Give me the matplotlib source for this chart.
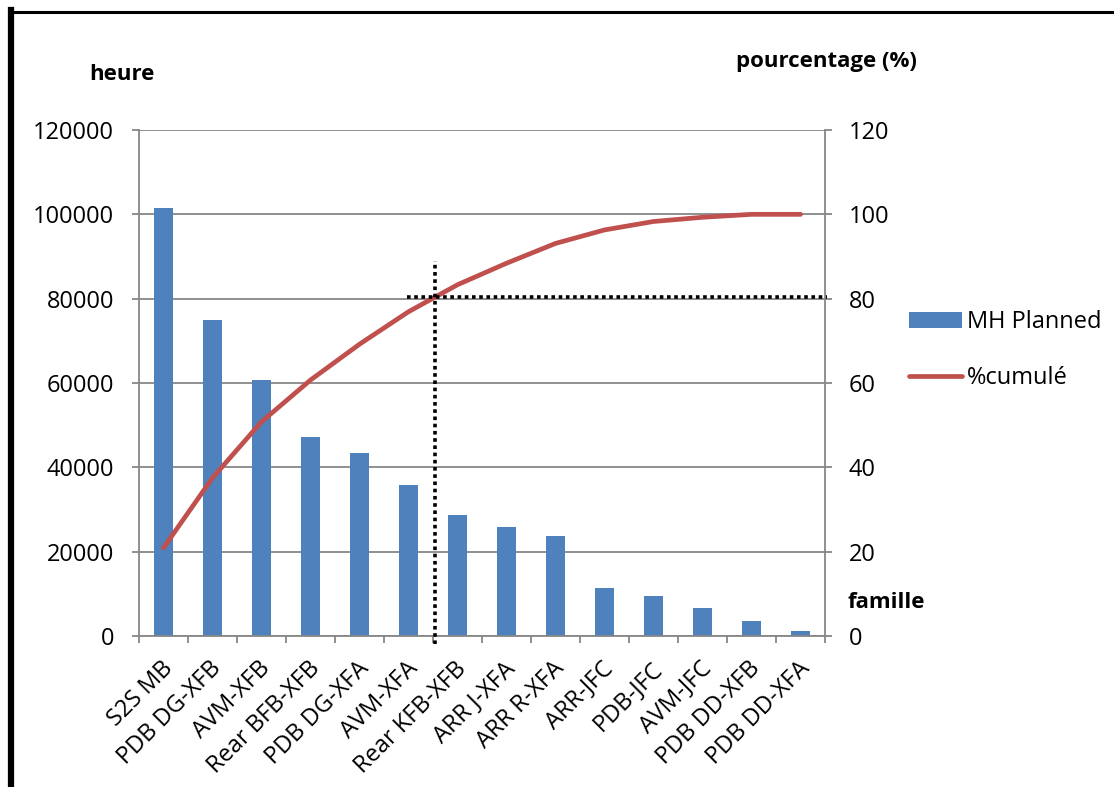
import matplotlib
matplotlib.use("Agg")
import matplotlib.pyplot as plt
from matplotlib.lines import Line2D
from matplotlib.patches import Patch

plt.rcParams['font.family'] = ['Open Sans', 'DejaVu Sans']

categories = ["S2S MB", "PDB DG-XFB", "AVM-XFB", "Rear BFB-XFB", "PDB DG-XFA",
              "AVM-XFA", "Rear KFB-XFB", "ARR J-XFA", "ARR R-XFA", "ARR-JFC",
              "PDB-JFC", "AVM-JFC", "PDB DD-XFB", "PDB DD-XFA"]
mh_planned = [101500, 75000, 60600, 47100, 43300, 35700, 28600, 25900, 23700,
              11300, 9500, 6600, 3600, 1300]
pct_cumule = [20.9, 37.5, 50.8, 60.7, 69.2, 76.9, 83.3, 88.4, 93.1, 96.3,
              98.3, 99.3, 100, 100]
left_ticks = [0, 20000, 40000, 60000, 80000, 100000, 120000]
right_ticks = [0, 20, 40, 60, 80, 100, 120]

bar_color = "#4F81BD"
line_color = "#C0504D"
grid_color = "#878787"
label_size = 17

fig = plt.figure(figsize=(11.14, 7.87), dpi=100)
ax = fig.add_axes([139 / 1114, 1 - 636 / 787, (825 - 139) / 1114, (636 - 130) / 787])
ax2 = ax.twinx()

x = list(range(len(categories)))
ax.bar(x, mh_planned, width=0.4, color=bar_color, zorder=2)
ax.set_xlim(-0.5, len(categories) - 0.5)
ax.set_ylim(0, 120000)
ax.set_yticks(left_ticks)
ax.set_yticklabels([str(v) for v in left_ticks])
ax.yaxis.grid(True, color=grid_color, linewidth=1.3, zorder=0)
ax.set_axisbelow(True)

# category ticks sit on the boundaries between columns
ax.set_xticks([i - 0.5 for i in range(len(categories) + 1)])
ax.set_xticklabels([])
ax.tick_params(axis='x', length=5, width=1.3, color=grid_color, direction='out')
ax.tick_params(axis='y', length=5, width=1.3, color=grid_color,
               labelsize=label_size, pad=13)
for i, name in enumerate(categories):
    ax.annotate(name, xy=(i, 0), xycoords=('data', 'axes fraction'),
                xytext=(4, -21), textcoords='offset points',
                rotation=45, ha='right', va='center', rotation_mode='anchor',
                fontsize=label_size)

for side in ['top', 'right']:
    ax.spines[side].set_visible(False)
for side in ['left', 'bottom']:
    ax.spines[side].set_color(grid_color)
    ax.spines[side].set_linewidth(1.3)

ax2.plot(x, pct_cumule, color=line_color, linewidth=3.4, solid_capstyle='round',
         solid_joinstyle='round', zorder=3)
ax2.set_ylim(0, 120)
ax2.set_yticks(right_ticks)
ax2.set_yticklabels([str(v) for v in right_ticks])
ax2.tick_params(axis='y', length=5, width=1.3, color=grid_color,
                labelsize=label_size, pad=12)
for side in ['top', 'left', 'bottom']:
    ax2.spines[side].set_visible(False)
ax2.spines['right'].set_color(grid_color)
ax2.spines['right'].set_linewidth(1.3)

# 80 % cut-off markers
ax2.plot([5.55, 5.55], [-1.8, 89], color='black', linewidth=2.6,
         linestyle=(0, (1, 1)), clip_on=False, zorder=4)
ax2.plot([4.97, 13.55], [80.5, 80.5], color='black', linewidth=2.6,
         linestyle=(0, (1, 1)), clip_on=False, zorder=4)

fig.text(89 / 1114, 1 - 75 / 787, "heure", fontsize=16, fontweight='bold',
         ha='left', va='center')
fig.text(736 / 1114, 1 - 62 / 787, "pourcentage (%)", fontsize=16,
         fontweight='bold', ha='left', va='center')
fig.text(847 / 1114, 1 - 603 / 787, "famille", fontsize=16, fontweight='bold',
         ha='left', va='center')

handles = [Patch(facecolor=bar_color, edgecolor='none'),
           Line2D([0], [0], color=line_color, linewidth=3.4, solid_capstyle='round')]
fig.legend(handles, ["MH Planned", "%cumulé"], loc='center left',
           bbox_to_anchor=(909 / 1114, 1 - 350 / 787), frameon=False,
           fontsize=label_size, handlelength=2.25, handletextpad=0.2,
           labelspacing=1.35, borderpad=0, borderaxespad=0)

# frame on the left and top edges
fig.add_artist(Line2D([10.5 / 1114, 10.5 / 1114], [0, 1 - 10 / 787],
                      transform=fig.transFigure, color='black', linewidth=4.5,
                      solid_capstyle='projecting'))
fig.add_artist(Line2D([10 / 1114, 1], [1 - 11.5 / 787, 1 - 11.5 / 787],
                      transform=fig.transFigure, color='black', linewidth=2.2))

fig.savefig("out.png", dpi=100)
